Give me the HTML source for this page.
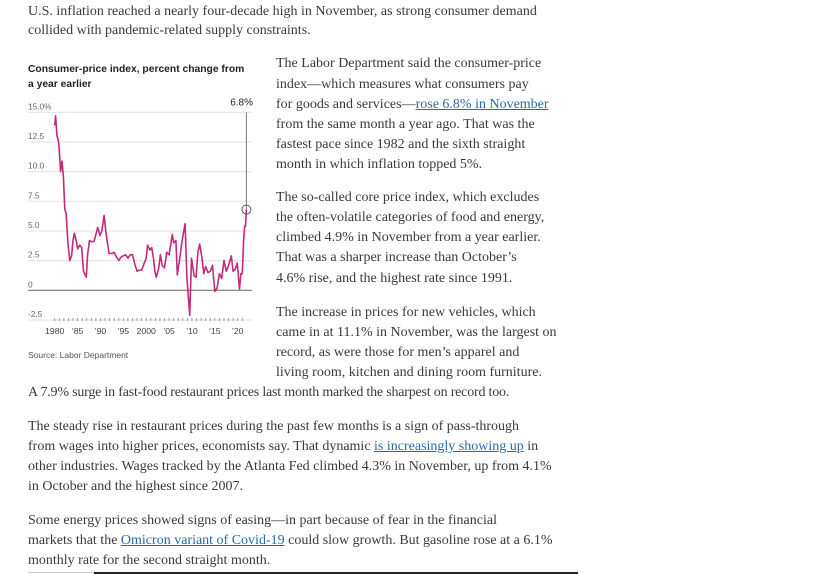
<!DOCTYPE html>
<html><head><meta charset="utf-8">
<style>
body{margin:0;width:819px;height:574px;background:#fff;position:relative;overflow:hidden;font-family:"Liberation Serif",serif;color:#3a3a3a;}
.l{position:absolute;white-space:nowrap;font-size:14px;line-height:20px;}
a{color:#2a6aa6;text-decoration:underline;}
.ct{position:absolute;font-family:"Liberation Sans",sans-serif;}
</style></head><body>
<div>
<div class="l" style="left:28px;top:2px">U.S. inflation reached a nearly four-decade high in November, as strong consumer demand</div>
<div class="l" style="left:28px;top:21px">collided with pandemic-related supply constraints.</div>
<div class="l" style="left:276px;top:54px">The Labor Department said the consumer-price</div>
<div class="l" style="left:276px;top:75px">index—which measures what consumers pay</div>
<div class="l" style="left:276px;top:95px">for goods and services—<a>rose 6.8% in November</a></div>
<div class="l" style="left:276px;top:115px">from the same month a year ago. That was the</div>
<div class="l" style="left:276px;top:135px">fastest pace since 1982 and the sixth straight</div>
<div class="l" style="left:276px;top:155px">month in which inflation topped 5%.</div>
<div class="l" style="left:276px;top:188px">The so-called core price index, which excludes</div>
<div class="l" style="left:276px;top:208px">the often-volatile categories of food and energy,</div>
<div class="l" style="left:276px;top:228px">climbed 4.9% in November from a year earlier.</div>
<div class="l" style="left:276px;top:248px">That was a sharper increase than October’s</div>
<div class="l" style="left:276px;top:269px">4.6% rise, and the highest rate since 1991.</div>
<div class="l" style="left:276px;top:303px">The increase in prices for new vehicles, which</div>
<div class="l" style="left:276px;top:323px">came in at 11.1% in November, was the largest on</div>
<div class="l" style="left:276px;top:343px">record, as were those for men’s apparel and</div>
<div class="l" style="left:276px;top:363px">living room, kitchen and dining room furniture.</div>
<div class="l" style="left:28px;top:383px;letter-spacing:-0.2px">A 7.9% surge in fast-food restaurant prices last month marked the sharpest on record too.</div>
<div class="l" style="left:28px;top:417px">The steady rise in restaurant prices during the past few months is a sign of pass-through</div>
<div class="l" style="left:28px;top:437px">from wages into higher prices, economists say. That dynamic <a>is increasingly showing up</a> in</div>
<div class="l" style="left:28px;top:457px">other industries. Wages tracked by the Atlanta Fed climbed 4.3% in November, up from 4.1%</div>
<div class="l" style="left:28px;top:477px">in October and the highest since 2007.</div>
<div class="l" style="left:28px;top:511px">Some energy prices showed signs of easing—in part because of fear in the financial</div>
<div class="l" style="left:28px;top:531px">markets that the <a>Omicron variant of Covid-19</a> could slow growth. But gasoline rose at a 6.1%</div>
<div class="l" style="left:28px;top:551px">monthly rate for the second straight month.</div>
<div style="position:absolute;left:28px;top:572px;width:66px;height:1px;background:#ccc"></div>
<div style="position:absolute;left:94px;top:572px;width:484px;height:2px;background:#222"></div>
</div>
<div class="ct" style="left:28px;top:62px;font-size:10.3px;font-weight:bold;line-height:15px;color:#222">Consumer-price index, percent change from<br>a year earlier</div>
<div class="ct" style="left:28px;top:350px;font-size:8.5px;color:#555">Source: Labor Department</div>
<svg id="chart" style="position:absolute;left:0;top:0" width="819" height="574"></svg>
<script>
const years=[1980.0,1980.2,1980.5,1980.8,1981.0,1981.3,1981.6,1981.9,1982.2,1982.5,1982.9,1983.3,1983.7,1984.0,1984.3,1984.7,1985.0,1985.5,1985.9,1986.3,1986.9,1987.2,1987.6,1988.0,1988.6,1989.0,1989.4,1989.9,1990.3,1990.8,1991.2,1991.6,1991.9,1992.5,1993.0,1993.5,1994.0,1994.5,1995.0,1995.5,1996.0,1996.5,1997.0,1997.5,1998.0,1998.5,1999.0,1999.5,2000.0,2000.3,2000.8,2001.2,2001.6,2001.9,2002.2,2002.7,2003.1,2003.5,2004.0,2004.5,2005.0,2005.7,2006.0,2006.5,2006.8,2007.3,2007.9,2008.5,2008.9,2009.5,2009.9,2010.5,2010.9,2011.3,2011.7,2012.2,2012.6,2013.0,2013.5,2014.0,2014.5,2015.0,2015.5,2016.0,2016.5,2017.0,2017.5,2018.0,2018.6,2019.0,2019.5,2019.9,2020.4,2020.7,2021.0,2021.3,2021.5,2021.7,2021.9];
const cpi=[13.9,14.7,13,12.6,11.8,10,10.9,9.6,6.8,6.5,3.9,2.5,2.9,4.2,4.8,4.2,3.5,3.8,3.6,1.6,1.1,3.0,4.2,4.1,4.1,4.7,5.3,4.6,5.0,6.3,4.9,3.8,3.1,3.1,3.2,2.8,2.5,2.8,2.9,3.0,2.7,3.0,3.0,2.2,1.6,1.7,1.7,2.2,2.7,3.8,3.4,3.6,2.7,1.6,1.1,1.8,3.0,2.1,1.9,3.2,3.0,4.7,4.0,4.2,1.3,2.6,4.3,5.6,1.1,-2.1,2.7,1.2,1.1,3.2,3.9,2.7,1.4,2.0,1.5,1.6,2.1,-0.1,0.2,1.4,1.0,2.5,1.6,2.1,2.9,1.6,1.8,2.3,0.1,1.4,1.4,4.2,5.4,5.4,6.8];
const yTicks=[15,12.5,10,7.5,5,2.5,0,-2.5];
const yTickLabels=["15.0%","12.5","10.0","7.5","5.0","2.5","0","-2.5"];
const xTickYears=[1980,1985,1990,1995,2000,2005,2010,2015,2020];
const xTickLabels=["1980","’85","’90","’95","2000","’05","’10","’15","’20"];
const ns="http://www.w3.org/2000/svg";
const svg=document.getElementById('chart');
const X=v=>54.7+(v-1980)*4.575;
const Y=v=>290.3-v*(178/15);
function mk(t,a){const e=document.createElementNS(ns,t);for(const k in a)e.setAttribute(k,a[k]);svg.appendChild(e);return e;}
yTicks.forEach((t,i)=>{
  const g=mk('line',{x1:28,x2:252,y1:Y(t),y2:Y(t),stroke:t===0?'#666':'#e6e6e6','stroke-width':t===0?1:1.2});
  
  
  const tx=mk('text',{x:28,y:Y(t)-3,'font-size':8.3,fill:'#666','font-family':'Liberation Sans, sans-serif'});
  tx.textContent=yTickLabels[i];
  
  
});
for(let yr=1980;yr<=2021;yr++){
  const tk=mk('line',{x1:X(yr),x2:X(yr),y1:Y(-2.5)-2,y2:Y(-2.5)+1,stroke:'#888','stroke-width':0.8});
  
  
}
xTickYears.forEach((yr,i)=>{
  const tx=mk('text',{x:X(yr),y:334,'font-size':8.7,fill:'#444','text-anchor':'middle','font-family':'Liberation Sans, sans-serif'});
  tx.textContent=xTickLabels[i];
  
  
});
const last=cpi.length-1;
const ann=mk('line',{x1:X(years[last]),x2:X(years[last]),y1:Y(15),y2:Y(cpi[last]),stroke:'#777','stroke-width':1});


const p=mk('path',{d:years.map((y,i)=>(i?'L':'M')+X(y).toFixed(1)+','+Y(cpi[i]).toFixed(1)).join(''),fill:'none',stroke:'#c42a7a','stroke-width':1.6,'stroke-linejoin':'round'});


const c=mk('circle',{cx:X(years[last]),cy:Y(cpi[last]),r:4.5,fill:'none',stroke:'#555','stroke-width':1});


const al=mk('text',{x:253,y:Y(15)-7,'font-size':10,fill:'#222','text-anchor':'end','font-family':'Liberation Sans, sans-serif'});
al.textContent=cpi[last].toFixed(1)+'%';


</script>
</body></html>
